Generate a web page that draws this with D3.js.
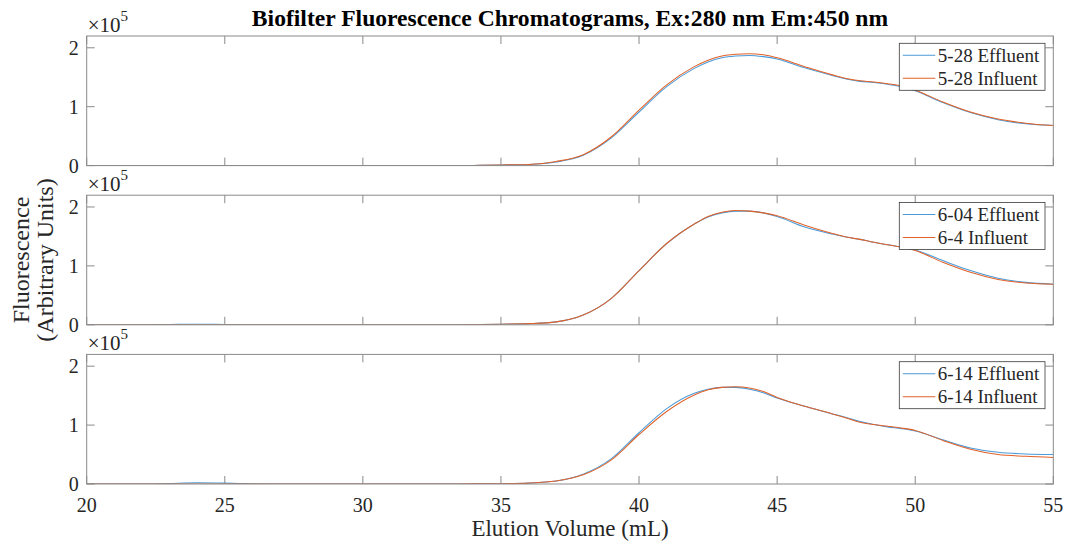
<!DOCTYPE html>
<html>
<head>
<meta charset="utf-8">
<script src="https://cdn.jsdelivr.net/npm/d3@7"></script>
<style>
  body { margin: 0; background: #fff; }
  svg { display: block; }
</style>
</head>
<body>
<svg id="chart" width="1065" height="545"></svg>
<script>
// Elution volume (mL) sample points shared by every trace
const volume = [20,21,22,23,24,25,26,27,28,29,30,31,32,33,34,35,36,37,38,39,40,41,42,42.5,43,43.5,44,44.5,45,46,47,47.5,48,48.5,49,49.5,50,51,52,53,54,55];

// Fluorescence in units of 1e5 (arbitrary units)
const eff0528 = [0,0,0,0,0,0,0,0,0,0,0,0,0,0,0.003,0.01,0.02,0.06,0.18,0.47,0.91,1.34,1.65,1.76,1.83,1.86,1.87,1.85,1.81,1.66,1.53,1.47,1.43,1.41,1.38,1.34,1.27,1.07,0.90,0.78,0.71,0.68];
const inf0528 = [0,0,0,0,0,0,0,0,0,0,0,0,0,0,0.003,0.01,0.02,0.07,0.19,0.49,0.94,1.37,1.68,1.79,1.86,1.89,1.90,1.88,1.83,1.68,1.54,1.48,1.44,1.42,1.39,1.35,1.28,1.08,0.91,0.79,0.72,0.68];

const eff0604 = [0,0,0,0.005,0.01,0.005,0,0,0,0,0,0,0,0,0.003,0.01,0.02,0.05,0.17,0.45,0.92,1.38,1.71,1.83,1.90,1.93,1.93,1.90,1.84,1.66,1.54,1.49,1.45,1.40,1.36,1.32,1.27,1.09,0.92,0.79,0.72,0.69];
const inf0604 = [0,0,0,0,0,0,0,0,0,0,0,0,0,0,0.003,0.01,0.02,0.05,0.17,0.45,0.92,1.38,1.71,1.84,1.91,1.94,1.93,1.90,1.85,1.69,1.55,1.49,1.45,1.40,1.36,1.32,1.26,1.06,0.89,0.77,0.71,0.69];

const eff0614 = [0,0,0,0.01,0.02,0.015,0.005,0,0,0,0,0,0,0,0.002,0.005,0.015,0.05,0.17,0.43,0.87,1.28,1.54,1.61,1.64,1.64,1.61,1.55,1.46,1.32,1.19,1.13,1.06,1.01,0.97,0.94,0.90,0.75,0.61,0.54,0.51,0.50];
const inf0614 = [0,0,0,0,0,0,0,0,0,0,0,0,0,0,0.002,0.005,0.015,0.05,0.16,0.41,0.84,1.23,1.51,1.60,1.64,1.65,1.63,1.57,1.47,1.32,1.19,1.12,1.05,1.01,0.98,0.95,0.91,0.74,0.59,0.50,0.47,0.45];

const legendLabels = [
  ["5-28 Effluent", "5-28 Influent"],
  ["6-04 Effluent", "6-4 Influent"],
  ["6-14 Effluent", "6-14 Influent"]
];

const xTicks = [20, 25, 30, 35, 40, 45, 50, 55];
const yTicks = [0, 1, 2];

const titleText = "Biofilter Fluorescence Chromatograms, Ex:280 nm Em:450 nm";
const xLabel = "Elution Volume (mL)";
const yLabel = ["Fluorescence", "(Arbitrary Units)"];

const panels = [
  { eff: eff0528, inf: inf0528, labels: legendLabels[0] },
  { eff: eff0604, inf: inf0604, labels: legendLabels[1] },
  { eff: eff0614, inf: inf0614, labels: legendLabels[2] }
];

// ---- layout ----
const left = 86.7, right = 1053.3;
const panelTops = [36, 195.2, 354.4];
const panelH = 129.6;
const tickLen = 8;
const axisColor = "#8a8a8a";
const textColor = "#262626";
const serif = "'Liberation Serif', 'Times New Roman', serif";
const blue = "#4a9bd9";
const orange = "#e0622a";

const svg = d3.select("#chart");
const x = d3.scaleLinear().domain([20, 55]).range([left, right]);

svg.append("defs").append("clipPath").attr("id", "plotclip")
  .append("rect").attr("x", left).attr("y", 0).attr("width", right - left).attr("height", panelH);

panels.forEach((p, i) => {
  const top = panelTops[i];
  const y = d3.scaleLinear().domain([0, 2.2]).range([panelH, 0]);
  const g = svg.append("g").attr("transform", `translate(0,${top})`);

  // traces
  const line = d3.line()
    .x((d, k) => x(volume[k]))
    .y(d => y(d))
    .curve(d3.curveMonotoneX);
  const plot = g.append("g").attr("clip-path", "url(#plotclip)");
  plot.append("path").datum(p.eff).attr("d", line)
    .attr("fill", "none").attr("stroke", blue).attr("stroke-width", 1.05);
  plot.append("path").datum(p.inf).attr("d", line)
    .attr("fill", "none").attr("stroke", orange).attr("stroke-width", 1.05);

  // ticks (inward, on all four sides)
  const tk = g.append("g").attr("stroke", axisColor).attr("stroke-width", 1);
  xTicks.forEach(v => {
    tk.append("line").attr("x1", x(v)).attr("x2", x(v)).attr("y1", panelH).attr("y2", panelH - tickLen);
    tk.append("line").attr("x1", x(v)).attr("x2", x(v)).attr("y1", 0).attr("y2", tickLen);
  });
  yTicks.forEach(v => {
    tk.append("line").attr("x1", left).attr("x2", left + tickLen).attr("y1", y(v)).attr("y2", y(v));
    tk.append("line").attr("x1", right).attr("x2", right - tickLen).attr("y1", y(v)).attr("y2", y(v));
  });

  // axis box
  g.append("rect").attr("x", left).attr("y", 0)
    .attr("width", right - left).attr("height", panelH)
    .attr("fill", "none").attr("stroke", axisColor).attr("stroke-width", 1);

  // y tick labels
  g.selectAll(".ylab").data(yTicks).enter().append("text")
    .attr("x", left - 8).attr("y", d => y(d)).attr("dy", "0.35em")
    .attr("text-anchor", "end").attr("fill", textColor)
    .style("font-family", serif).style("font-size", "20px")
    .text(d => d);

  // exponent label
  const ex = g.append("text").attr("x", left + 1).attr("y", -4.5)
    .attr("fill", textColor).style("font-family", serif).style("font-size", "21px");
  ex.append("tspan").text("\u00d710");
  ex.append("tspan").attr("dy", -11).style("font-size", "15px").text("5");

  // legend
  const lg = g.append("g").attr("transform", `translate(899.3,7.3)`);
  lg.append("rect").attr("width", 145.7).attr("height", 47)
    .attr("fill", "#fff").attr("stroke", "#3a3a3a").attr("stroke-width", 0.8);
  [[blue, p.labels[0]], [orange, p.labels[1]]].forEach((e, k) => {
    const cy = 12 + k * 23;
    lg.append("line").attr("x1", 3.5).attr("x2", 36).attr("y1", cy).attr("y2", cy)
      .attr("stroke", e[0]).attr("stroke-width", 1.05);
    lg.append("text").attr("x", 38.5).attr("y", cy).attr("dy", "0.35em")
      .attr("fill", textColor).style("font-family", serif).style("font-size", "19px")
      .text(e[1]);
  });

  // x tick labels on the bottom panel only
  if (i === panels.length - 1) {
    g.selectAll(".xlab").data(xTicks).enter().append("text")
      .attr("x", d => x(d)).attr("y", panelH + 28)
      .attr("text-anchor", "middle").attr("fill", textColor)
      .style("font-family", serif).style("font-size", "20px")
      .text(d => d);
  }
});

// title
svg.append("text").attr("x", (left + right) / 2).attr("y", 26)
  .attr("text-anchor", "middle").attr("fill", "#000")
  .style("font-family", serif).style("font-size", "23.6px").style("font-weight", "bold")
  .text(titleText);

// x label
svg.append("text").attr("x", (left + right) / 2).attr("y", 536)
  .attr("text-anchor", "middle").attr("fill", textColor)
  .style("font-family", serif).style("font-size", "23px")
  .text(xLabel);

// y label (two lines)
const yl = svg.append("text")
  .attr("transform", `translate(29,260) rotate(-90)`)
  .attr("text-anchor", "middle").attr("fill", textColor)
  .style("font-family", serif).style("font-size", "24px");
yl.append("tspan").attr("x", 0).attr("y", 0).text(yLabel[0]);
yl.append("tspan").attr("x", 0).attr("y", 24).text(yLabel[1]);
</script>
</body>
</html>
